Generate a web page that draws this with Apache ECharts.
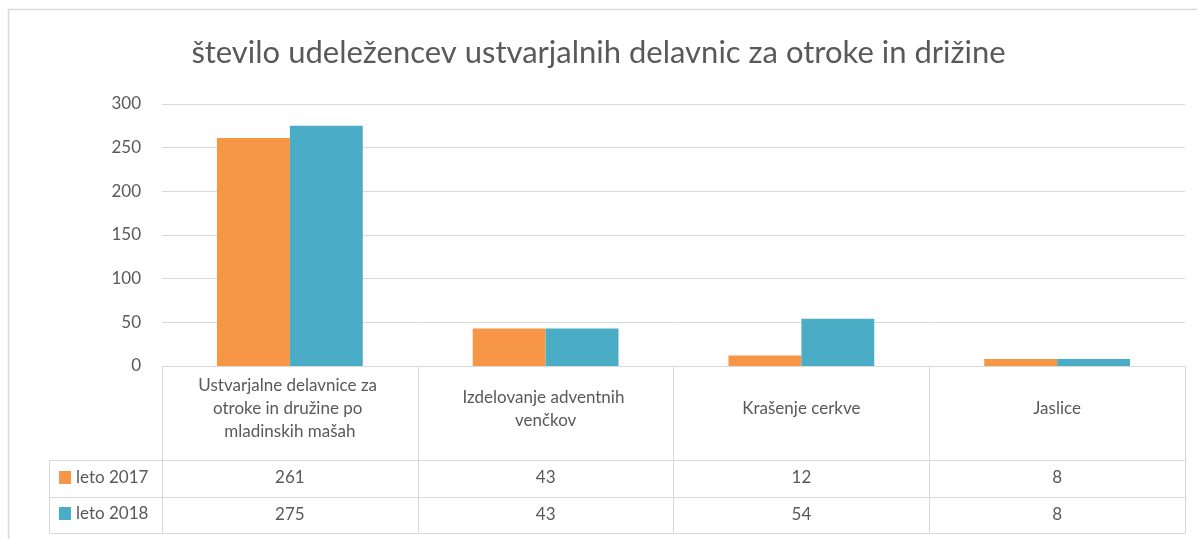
<!DOCTYPE html>
<html>
<head>
<meta charset="utf-8">
<script src="https://cdn.jsdelivr.net/npm/echarts@6/dist/echarts.min.js"></script>
<style>
html, body { margin: 0; padding: 0; background: #fff; }
#chartmain { width: 1197px; height: 539px; }
</style>
</head>
<body>
<div id="chartmain"></div>
<script>
var categories = ['Ustvarjalne delavnice za otroke in družine po mladinskih mašah', 'Izdelovanje adventnih venčkov', 'Krašenje cerkve', 'Jaslice'];
var seriesNames = ['leto 2017', 'leto 2018'];
var vals2017 = [261, 43, 12, 8];
var vals2018 = [275, 43, 54, 8];
var yTicks = { min: 0, max: 300, interval: 50 };

var textColor = '#595959';
var lineColor = '#d9d9d9';
var font = 'Lato';
var fs = 17;

var myChart = echarts.init(document.getElementById('chartmain'));

// rows of the data table: value labels of extra category axes
var tableAxis = function (vals, offset) {
	return {
		type: 'category',
		position: 'bottom',
		offset: offset,
		data: vals.map(String),
		axisLine: { show: true, lineStyle: { color: lineColor } },
		axisTick: { show: false },
		axisLabel: { interval: 0, margin: 18, verticalAlign: 'middle', color: textColor, fontFamily: font, fontSize: fs }
	};
};

var option = {
	animation: false,
	color: ['#F79646', '#4BACC6'],
	title: {
		text: 'število udeležencev ustvarjalnih delavnic za otroke in drižine',
		left: 'center',
		top: 32,
		textStyle: { color: textColor, fontFamily: font, fontWeight: 'normal', fontSize: 31 }
	},
	legend: {
		data: seriesNames,
		orient: 'vertical',
		left: 54,
		top: 464,
		itemWidth: 12,
		itemHeight: 13,
		itemGap: 19,
		icon: 'rect',
		textStyle: { color: textColor, fontFamily: font, fontSize: fs }
	},
	grid: { left: 162, right: 12, top: 104, bottom: 173, containLabel: false },
	xAxis: [
		{
			type: 'category',
			data: categories,
			axisLine: { show: true, lineStyle: { color: lineColor } },
			axisTick: { show: true, interval: 0, length: 167, lineStyle: { color: lineColor } },
			axisLabel: {
				interval: 0, margin: 43, verticalAlign: 'middle', width: 220, overflow: 'break',
				lineHeight: 23, color: textColor, fontFamily: font, fontSize: fs
			}
		},
		tableAxis(vals2017, 94),
		tableAxis(vals2018, 131),
		{
			type: 'category', position: 'bottom', offset: 167, data: categories,
			axisLine: { show: true, lineStyle: { color: lineColor } },
			axisTick: { show: false }, axisLabel: { show: false }
		}
	],
	yAxis: {
		type: 'value',
		min: yTicks.min, max: yTicks.max, interval: yTicks.interval,
		axisLine: { show: false },
		axisTick: { show: false },
		splitLine: { lineStyle: { color: lineColor } },
		axisLabel: { margin: 21, color: textColor, fontFamily: font, fontSize: fs }
	},
	series: [
		{ name: seriesNames[0], type: 'bar', data: vals2017, barGap: 0, barCategoryGap: '43%' },
		{ name: seriesNames[1], type: 'bar', data: vals2018, barGap: 0, barCategoryGap: '43%' }
	],
	graphic: [
		{ type: 'rect', shape: { x: 8.5, y: 9.5, width: 1200, height: 540 }, style: { fill: null, stroke: lineColor, lineWidth: 1.5 }, silent: true },
		{ type: 'polyline', shape: { points: [[162, 460.5], [49.5, 460.5], [49.5, 533.5], [162, 533.5]] }, style: { fill: null, stroke: lineColor, lineWidth: 1 }, silent: true },
		{ type: 'line', shape: { x1: 49.5, y1: 497.5, x2: 162, y2: 497.5 }, style: { stroke: lineColor, lineWidth: 1 }, silent: true }
	]
};

myChart.setOption(option);
</script>
</body>
</html>
